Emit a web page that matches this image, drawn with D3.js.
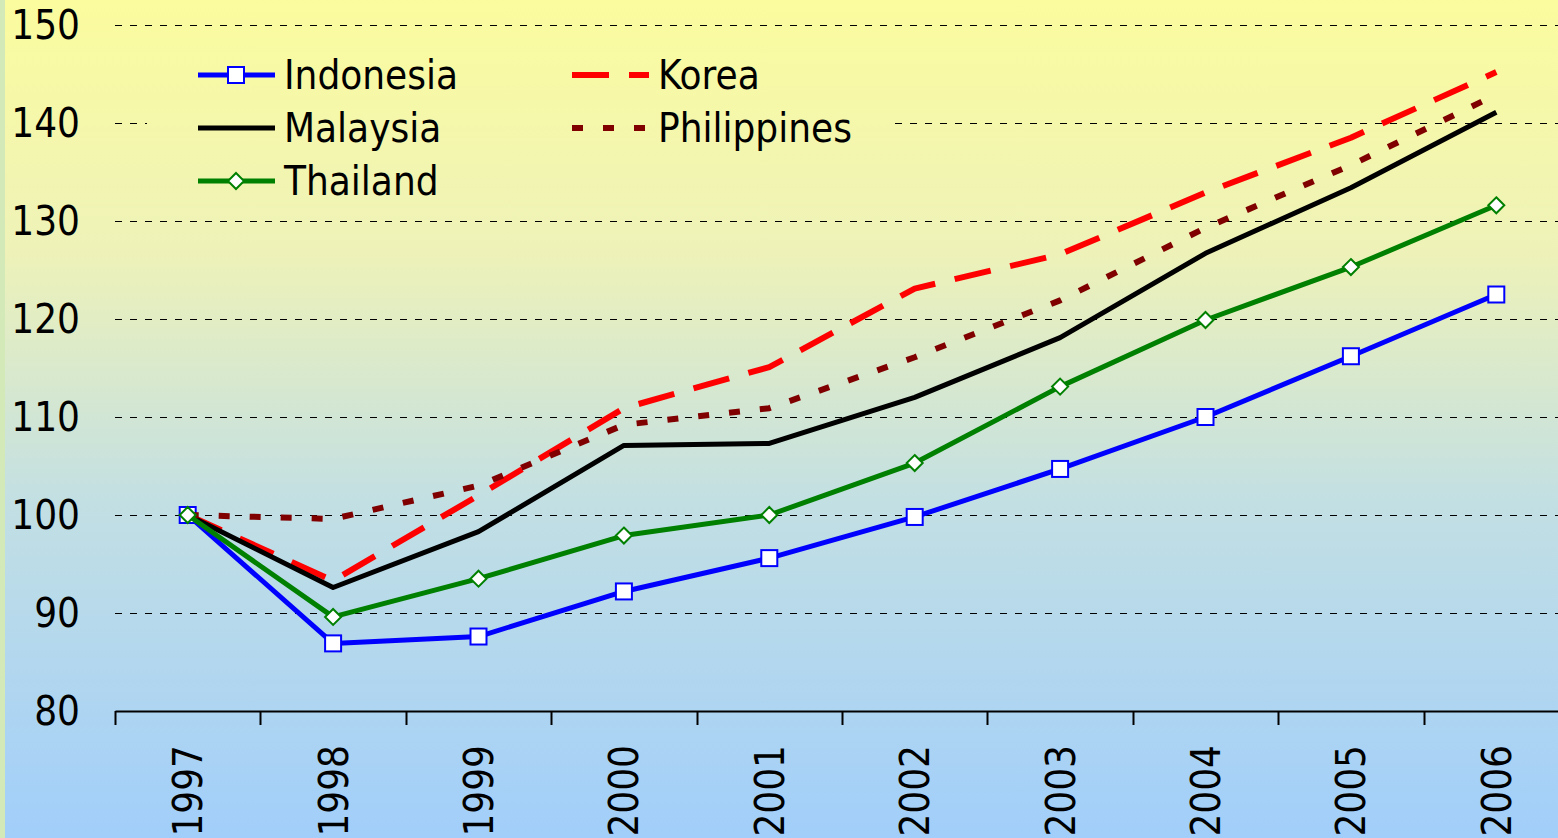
<!DOCTYPE html>
<html>
<head>
<meta charset="utf-8">
<script src="https://cdn.jsdelivr.net/npm/d3@7"></script>
<style>
  html, body { margin: 0; padding: 0; background: #ffffff; }
  svg { display: block; }
  text { font-family: "DejaVu Sans Condensed", "DejaVu Sans", sans-serif; font-stretch: condensed; fill: #000; }
</style>
</head>
<body>
<div id="chart"></div>
<script>
// data (index, 1997 = 100)
const years = ['1997', '1998', '1999', '2000', '2001', '2002', '2003', '2004', '2005', '2006'];
const indonesia = [100, 86.9, 87.6, 92.2, 95.6, 99.8, 104.7, 110.0, 116.2, 122.5];
const korea = [100, 93.3, 102.0, 110.9, 115.1, 123.1, 126.6, 132.9, 138.5, 145.2];
const malaysia = [100, 92.6, 98.3, 107.1, 107.3, 112.0, 118.1, 126.7, 133.4, 141.1];
const philippines = [100, 99.6, 103.0, 109.2, 110.9, 116.1, 121.9, 129.3, 135.7, 142.9];
const thailand = [100, 89.6, 93.5, 97.9, 100.0, 105.3, 113.1, 119.9, 125.3, 131.6];
const yTicks = [80, 90, 100, 110, 120, 130, 140, 150];

// series in drawing order (Excel order)
const series = [
    { name: 'Indonesia', values: indonesia, color: '#0000ff', width: 5, dash: null, marker: 'square' },
    { name: 'Korea', values: korea, color: '#ff0000', width: 6, dash: '37 20', marker: null },
    { name: 'Malaysia', values: malaysia, color: '#000000', width: 5, dash: null, marker: null },
    { name: 'Philippines', values: philippines, color: '#800000', width: 6, dash: '11 20', marker: null },
    { name: 'Thailand', values: thailand, color: '#008000', width: 5, dash: null, marker: 'diamond' }
];

const width = 1558, height = 838;
const plotLeft = 115, plotTop = 25, plotBottom = 711;
const bandW = 145.4;

const svg = d3.select('#chart').append('svg')
    .attr('width', width)
    .attr('height', height);

// background gradient, shared by the legend box so it blends in
const defs = svg.append('defs');
const grad = defs.append('linearGradient')
    .attr('id', 'bg')
    .attr('gradientUnits', 'userSpaceOnUse')
    .attr('x1', 0).attr('y1', 0).attr('x2', 0).attr('y2', height);
grad.append('stop').attr('offset', '0%').attr('stop-color', '#fbfc9e');
grad.append('stop').attr('offset', '30%').attr('stop-color', '#eef2b8');
grad.append('stop').attr('offset', '60%').attr('stop-color', '#c2dfe3');
grad.append('stop').attr('offset', '100%').attr('stop-color', '#a1cefa');

svg.append('rect').attr('x', 0).attr('y', 0).attr('width', width).attr('height', height).attr('fill', 'url(#bg)');
svg.append('rect').attr('x', 0).attr('y', 0).attr('width', 5).attr('height', height).attr('fill', '#d3e9b8');

// scales
const x = d3.scaleBand()
    .domain(years)
    .range([plotLeft, plotLeft + bandW * years.length])
    .padding(0);

const y = d3.scaleLinear()
    .domain([80, 150])
    .range([plotBottom, plotTop]);

const cx = d => x(d) + x.bandwidth() / 2;

// gridlines
svg.append('g')
    .attr('class', 'grid')
    .selectAll('line')
    .data(yTicks.filter(t => t > 80))
    .enter().append('line')
    .attr('x1', plotLeft)
    .attr('x2', plotLeft + bandW * years.length)
    .attr('y1', d => Math.round(y(d)) + 0.5)
    .attr('y2', d => Math.round(y(d)) + 0.5)
    .attr('stroke', '#000')
    .attr('stroke-width', 1)
    .attr('stroke-dasharray', '7 8');

// y axis labels (no axis line)
const yAxis = svg.append('g')
    .attr('transform', `translate(${plotLeft},0)`)
    .call(d3.axisLeft(y).tickValues(yTicks).tickSize(0).tickPadding(35));
yAxis.select('.domain').remove();
yAxis.selectAll('text')
    .style('font-size', '40px')
    .attr('dy', '0.34em');

// x axis
const xAxis = svg.append('g')
    .attr('transform', `translate(0,${plotBottom})`)
    .call(d3.axisBottom(x).tickSize(0));
xAxis.select('.domain')
    .attr('stroke', '#000')
    .attr('stroke-width', 2);
xAxis.selectAll('text')
    .style('font-size', '40px')
    .attr('transform', 'rotate(-90)')
    .attr('x', -34)
    .attr('y', 0)
    .attr('dy', '0.36em')
    .attr('text-anchor', 'end');

// tick marks between categories
const bounds = years.map(d => x(d)).concat([x(years[years.length - 1]) + x.bandwidth()]);
xAxis.selectAll('.bound')
    .data(bounds)
    .enter().append('line')
    .attr('class', 'bound')
    .attr('x1', d => Math.round(d) + 0.5)
    .attr('x2', d => Math.round(d) + 0.5)
    .attr('y1', 0)
    .attr('y2', 14)
    .attr('stroke', '#000')
    .attr('stroke-width', 2);

// lines
const line = d3.line()
    .x((d, i) => cx(years[i]))
    .y(d => y(d));

function drawMarker(g, type, px, py, color) {
    if (type === 'square') {
        g.append('rect')
            .attr('x', px - 8).attr('y', py - 8)
            .attr('width', 16).attr('height', 16)
            .attr('fill', '#fff')
            .attr('stroke', color)
            .attr('stroke-width', 2);
    } else if (type === 'diamond') {
        g.append('path')
            .attr('d', `M${px},${py - 8}L${px + 8},${py}L${px},${py + 8}L${px - 8},${py}Z`)
            .attr('fill', '#fff')
            .attr('stroke', color)
            .attr('stroke-width', 2);
    }
}

series.forEach(s => {
    const g = svg.append('g').attr('class', 'series');
    g.append('path')
        .datum(s.values)
        .attr('d', line)
        .attr('fill', 'none')
        .attr('stroke', s.color)
        .attr('stroke-width', s.width)
        .attr('stroke-linejoin', 'round')
        .attr('stroke-dasharray', s.dash);
    if (s.marker) {
        s.values.forEach((v, i) => drawMarker(g, s.marker, cx(years[i]), y(v), s.color));
    }
});

// legend
const legend = svg.append('g').attr('class', 'legend');
legend.append('rect')
    .attr('x', 147).attr('y', 45)
    .attr('width', 742).attr('height', 162)
    .attr('fill', 'url(#bg)');

const legendPos = {
    Indonesia: [198, 75], Malaysia: [198, 128], Thailand: [198, 181],
    Korea: [572, 75], Philippines: [572, 128]
};

series.forEach(s => {
    const [lx, ly] = legendPos[s.name];
    const g = legend.append('g');
    g.append('line')
        .attr('x1', lx).attr('x2', lx + 77)
        .attr('y1', ly).attr('y2', ly)
        .attr('stroke', s.color)
        .attr('stroke-width', s.width)
        .attr('stroke-dasharray', s.dash);
    if (s.marker) drawMarker(g, s.marker, lx + 38, ly, s.color);
    g.append('text')
        .attr('x', lx + 86)
        .attr('y', ly)
        .attr('dy', '0.36em')
        .style('font-size', '40px')
        .text(s.name);
});
</script>
</body>
</html>
